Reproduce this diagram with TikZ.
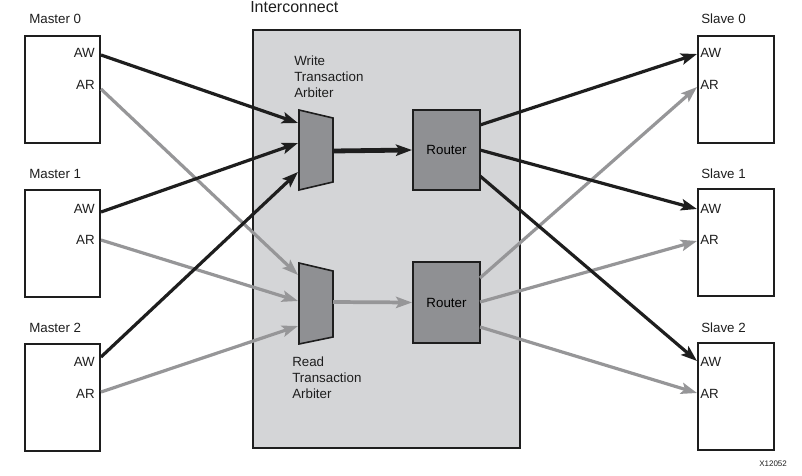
\documentclass[tikz,border=0pt]{standalone}
\usepackage{fontspec}
\setmainfont{Liberation Sans}
\usetikzlibrary{arrows.meta}
\definecolor{darkline}{RGB}{30,30,30}
\definecolor{grayline}{RGB}{150,150,152}
\definecolor{icfill}{RGB}{212,213,215}
\definecolor{blockfill}{RGB}{143,144,147}
\tikzset{
  px/.style={x=0.75pt,y=-0.75pt},
  unitbox/.style={draw=darkline,line width=1.5pt,fill=white,minimum width=56.25pt,minimum height=80.25pt,inner sep=0pt},
  routerbox/.style={draw=darkline,line width=1.5pt,fill=blockfill,minimum width=50.25pt,minimum height=60.5pt,inner sep=0pt,font=\fontsize{10}{12}\selectfont},
  lbl/.style={inner sep=0pt,font=\fontsize{10}{12}\selectfont,text=darkline},
  mlabel/.style={inner sep=0pt,font=\fontsize{10}{12}\selectfont,align=left,text=darkline},
  arb/.style={draw=darkline,line width=1.2pt,fill=blockfill},
  warrow/.style={draw=darkline,line width=2.4pt,-{Stealth[length=12pt,width=8.5pt,inset=2.5pt]}},
  rarrow/.style={draw=grayline,line width=2.4pt,-{Stealth[length=12pt,width=8.5pt,inset=2.5pt]}},
}
\begin{document}
\begin{tikzpicture}[px]
\useasboundingbox (0,0) rectangle (802,475);
% interconnect
\node[draw=darkline,line width=1.5pt,fill=icfill,minimum width=200.25pt,minimum height=313.5pt,inner sep=0pt] (ic) at (386.5,239) {};
\node[lbl,anchor=west,font=\fontsize{12}{14}\selectfont] (iclbl) at (250,7.5) {Interconnect};
% masters
\node[unitbox] (m0) at (62.5,89.5) {};
\node[unitbox] (m1) at (62.5,243.5) {};
\node[unitbox] (m2) at (62.5,397.5) {};
\node[lbl,anchor=west] (m0l) at (29,19) {Master 0};
\node[lbl,anchor=west] (m1l) at (29,174) {Master 1};
\node[lbl,anchor=west] (m2l) at (29,328) {Master 2};
\node[lbl,anchor=east] (m0aw) at (95,53) {AW};
\node[lbl,anchor=east] (m0ar) at (95,85) {AR};
\node[lbl,anchor=east] (m1aw) at (95,209) {AW};
\node[lbl,anchor=east] (m1ar) at (95,240) {AR};
\node[lbl,anchor=east] (m2aw) at (95,362) {AW};
\node[lbl,anchor=east] (m2ar) at (95,394) {AR};
\coordinate (m0awo) at (101,55);
\coordinate (m0aro) at (101,89);
\coordinate (m1awo) at (101,212);
\coordinate (m1aro) at (101,240);
\coordinate (m2awo) at (101,357);
\coordinate (m2aro) at (101,392);
% slaves
\node[unitbox,minimum width=57pt] (s0) at (736,89.5) {};
\node[unitbox,minimum width=57pt] (s1) at (736,242.5) {};
\node[unitbox,minimum width=57pt] (s2) at (736,396.5) {};
\node[lbl,anchor=west] (s0l) at (701,19) {Slave 0};
\node[lbl,anchor=west] (s1l) at (701,174) {Slave 1};
\node[lbl,anchor=west] (s2l) at (701,328) {Slave 2};
\node[lbl,anchor=west] (s0aw) at (700,53) {AW};
\node[lbl,anchor=west] (s0ar) at (700,85) {AR};
\node[lbl,anchor=west] (s1aw) at (700,209) {AW};
\node[lbl,anchor=west] (s1ar) at (700,240) {AR};
\node[lbl,anchor=west] (s2aw) at (700,362) {AW};
\node[lbl,anchor=west] (s2ar) at (700,394) {AR};
\coordinate (s0awi) at (697,54);
\coordinate (s0ari) at (697,87);
\coordinate (s1awi) at (697,209);
\coordinate (s1ari) at (697,241);
\coordinate (s2awi) at (697,361);
\coordinate (s2ari) at (697,393);
% arbiters
\draw[arb] (299,110) -- (333,118) -- (333,182) -- (299,190) -- cycle;
\draw[arb] (299,263) -- (333,271) -- (333,337) -- (299,344) -- cycle;
\coordinate (wa1) at (298,123);
\coordinate (wa2) at (298,143);
\coordinate (wa3) at (298,172);
\coordinate (wao) at (333,151);
\coordinate (ra1) at (298,275);
\coordinate (ra2) at (298,301);
\coordinate (ra3) at (298,326);
\coordinate (rao) at (333,302);
\node[mlabel,anchor=north west] (wlbl) at (294,56) {Write\\Transaction\\Arbiter};
\node[mlabel,anchor=north west] (rlbl) at (292,357) {Read\\Transaction\\Arbiter};
% routers
\node[routerbox] (wr) at (446.5,150) {Router};
\node[routerbox] (rr) at (446.5,302.5) {Router};
\coordinate (wr1) at (480,125);
\coordinate (wr2) at (480,150);
\coordinate (wr3) at (480,176);
\coordinate (rr1) at (480,278);
\coordinate (rr2) at (480,302);
\coordinate (rr3) at (480,327);
% read arrows (under)
\draw[rarrow] (m0aro) -- (ra1);
\draw[rarrow] (m1aro) -- (ra2);
\draw[rarrow] (m2aro) -- (ra3);
\draw[rarrow] (rr1) -- (s0ari);
\draw[rarrow] (rr2) -- (s1ari);
\draw[rarrow] (rr3) -- (s2ari);
\draw[rarrow,line width=2.8pt] (rao) -- (rr.west);
% write arrows
\draw[warrow] (m0awo) -- (wa1);
\draw[warrow] (m1awo) -- (wa2);
\draw[warrow] (m2awo) -- (wa3);
\draw[warrow] (wr1) -- (s0awi);
\draw[warrow] (wr2) -- (s1awi);
\draw[warrow] (wr3) -- (s2awi);
\draw[warrow,line width=3.6pt] (wao) -- (wr.west);
% id
\node[lbl,anchor=west,font=\fontsize{6}{7}\selectfont] (xid) at (759,464) {X12052};
\end{tikzpicture}
\end{document}
